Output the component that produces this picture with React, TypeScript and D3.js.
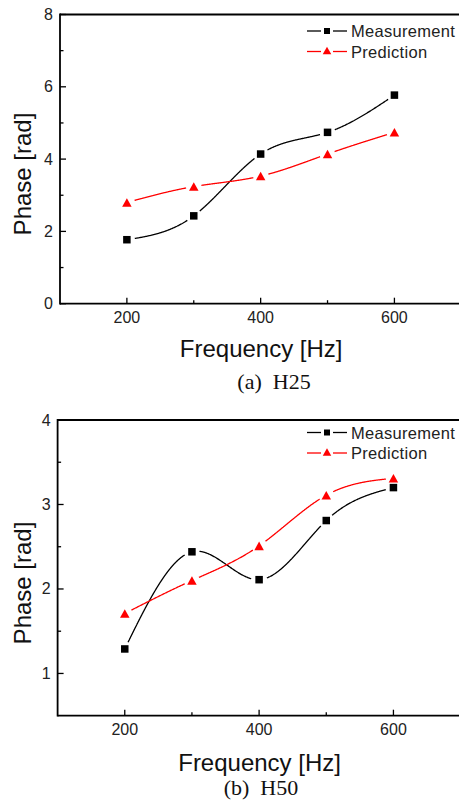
import React from "react";
import * as d3 from "d3";

const frequencies = [200, 300, 400, 500, 600];
const h25Measurement = [1.77, 2.43, 4.14, 4.74, 5.77];
const h25Prediction = [2.8, 3.24, 3.53, 4.14, 4.74];
const h50Measurement = [1.29, 2.44, 2.11, 2.81, 3.2];
const h50Prediction = [1.71, 2.1, 2.51, 3.11, 3.31];

const xMajorTicks = [200, 400, 600];
const xMinorTicks = [300, 500];
const h25YMajor = [0, 2, 4, 6, 8];
const h25YMinor = [1, 3, 5, 7];
const h50YMajor = [1, 2, 3, 4];
const h50YMinor = [1.5, 2.5, 3.5];

const seriesNames = ["Measurement", "Prediction"];
const captions = ["(a)  H25", "(b)  H50"];

const SANS = "Arial, 'Liberation Sans', sans-serif";
const SERIF = "'Times New Roman', 'Liberation Serif', serif";

type Geo = {
  left: number;
  right: number;
  top: number;
  bottom: number;
  yDomain: [number, number];
  yMajor: number[];
  yMinor: number[];
  meas: number[];
  pred: number[];
  id: string;
  caption: string;
  xTitleY: number;
  captionX: number;
  captionY: number;
  yTitleX: number;
  yTitleY: number;
  legendY: number;
};

function Square({ x, y, s }: { x: number; y: number; s: number }) {
  return <rect x={x - s / 2} y={y - s / 2} width={s} height={s} fill="#000" />;
}
function Tri({ x, y, s, color }: { x: number; y: number; s: number; color: string }) {
  const h = s * 0.9;
  return (
    <path
      d={`M${x},${y - h / 2}L${x + s / 2},${y + h / 2}L${x - s / 2},${y + h / 2}Z`}
      fill={color}
    />
  );
}

// Build a line path with gaps of radius r around each marker point,
// by sampling the curve and breaking it where it enters a gap circle.
function gappedPath(d: string, pts: [number, number][], r: number): string {
  if (typeof document === "undefined") return d;
  const ns = "http://www.w3.org/2000/svg";
  const svg = document.createElementNS(ns, "svg");
  const p = document.createElementNS(ns, "path");
  p.setAttribute("d", d);
  svg.appendChild(p);
  svg.style.position = "absolute";
  svg.style.visibility = "hidden";
  document.body.appendChild(svg);
  const len = p.getTotalLength();
  let out = "";
  let drawing = false;
  const step = 0.5;
  for (let s = 0; s <= len + 0.001; s += step) {
    const q = p.getPointAtLength(Math.min(s, len));
    const inGap = pts.some(([px, py]) => Math.hypot(q.x - px, q.y - py) < r);
    if (inGap) {
      drawing = false;
    } else {
      out += `${drawing ? "L" : "M"}${q.x.toFixed(2)},${q.y.toFixed(2)}`;
      drawing = true;
    }
  }
  document.body.removeChild(svg);
  return out;
}

function Panel(g: Geo) {
  const x = d3.scaleLinear().domain([100, 700]).range([g.left, g.right]);
  const y = d3.scaleLinear().domain(g.yDomain).range([g.bottom, g.top]);
  const line = d3
    .line<number>()
    .x((_, i) => x(frequencies[i]))
    .y((d) => y(d))
    .curve(d3.curveNatural);
  const gapR = 7.5;
  const red = "#ff0000";
  const midX = (g.left + g.right) / 2;
  const lx0 = 307;
  const lx1 = 347;
  const lm = 327;
  const measPts = g.meas.map((v, i) => [x(frequencies[i]), y(v)] as [number, number]);
  const predPts = g.pred.map((v, i) => [x(frequencies[i]), y(v)] as [number, number]);
  const measD = gappedPath(line(g.meas) || "", measPts, gapR);
  const predD = gappedPath(line(g.pred) || "", predPts, gapR);
  return (
    <g>
      {/* frame */}
      <line x1={g.left} x2={g.right + 2} y1={g.top} y2={g.top} stroke="#000" strokeWidth={1.8} />
      <line x1={g.right} x2={g.right} y1={g.top} y2={g.bottom} stroke="#000" strokeWidth={1.8} />
      <line x1={g.left} x2={g.left} y1={g.top - 0.9} y2={g.bottom + 0.9} stroke="#000" strokeWidth={1.8} />
      <line x1={g.left} x2={g.right + 2} y1={g.bottom} y2={g.bottom} stroke="#000" strokeWidth={1.8} />
      {/* x ticks */}
      {xMajorTicks.map((t) => (
        <g key={`xM${t}`}>
          <line x1={x(t)} x2={x(t)} y1={g.bottom} y2={g.bottom - 6} stroke="#000" strokeWidth={1.3} />
          <text x={x(t)} y={g.bottom + 19} textAnchor="middle" fontFamily={SANS} fontSize={16} fill="#222">
            {t}
          </text>
        </g>
      ))}
      {xMinorTicks.map((t) => (
        <line key={`xm${t}`} x1={x(t)} x2={x(t)} y1={g.bottom} y2={g.bottom - 3.5} stroke="#000" strokeWidth={1.3} />
      ))}
      {/* y ticks */}
      {g.yMajor.map((t) => (
        <g key={`yM${t}`}>
          <line x1={g.left} x2={g.left + 6} y1={y(t)} y2={y(t)} stroke="#000" strokeWidth={1.3} />
          <text x={g.left - 7} y={y(t) + 5.5} textAnchor="end" fontFamily={SANS} fontSize={16} fill="#222">
            {t}
          </text>
        </g>
      ))}
      {g.yMinor.map((t) => (
        <line key={`ym${t}`} x1={g.left} x2={g.left + 3.5} y1={y(t)} y2={y(t)} stroke="#000" strokeWidth={1.3} />
      ))}
      {/* series */}
      <path d={measD} fill="none" stroke="#000" strokeWidth={1.3} />
      <path d={predD} fill="none" stroke={red} strokeWidth={1.3} />
      {g.meas.map((v, i) => (
        <Square key={`s${i}`} x={x(frequencies[i])} y={y(v)} s={7.5} />
      ))}
      {g.pred.map((v, i) => (
        <Tri key={`t${i}`} x={x(frequencies[i])} y={y(v)} s={9.5} color={red} />
      ))}
      {/* legend */}
      <g>
        <line x1={lx0} x2={lm - 6} y1={g.legendY} y2={g.legendY} stroke="#000" strokeWidth={1.3} />
        <line x1={lm + 6} x2={lx1} y1={g.legendY} y2={g.legendY} stroke="#000" strokeWidth={1.3} />
        <Square x={lm} y={g.legendY} s={6} />
        <text x={351} y={g.legendY + 6} fontFamily={SANS} fontSize={16.5} letterSpacing={0.3} fill="#222">
          {seriesNames[0]}
        </text>
        <line x1={lx0} x2={lm - 6} y1={g.legendY + 20.5} y2={g.legendY + 20.5} stroke={red} strokeWidth={1.3} />
        <line x1={lm + 6} x2={lx1} y1={g.legendY + 20.5} y2={g.legendY + 20.5} stroke={red} strokeWidth={1.3} />
        <Tri x={lm} y={g.legendY + 19.5} s={8.5} color={red} />
        <text x={351} y={g.legendY + 26.5} fontFamily={SANS} fontSize={16.5} letterSpacing={0.3} fill="#222">
          {seriesNames[1]}
        </text>
      </g>
      {/* titles */}
      <text x={midX + 0.5} y={g.xTitleY} textAnchor="middle" fontFamily={SANS} fontSize={24} fill="#111">
        Frequency [Hz]
      </text>
      <text
        transform={`translate(${g.yTitleX},${g.yTitleY}) rotate(-90)`}
        textAnchor="middle"
        fontFamily={SANS}
        fontSize={24}
        fill="#111"
      >
        Phase [rad]
      </text>
      <text
        x={g.captionX}
        y={g.captionY}
        textAnchor="middle"
        fontFamily={SERIF}
        fontSize={22}
        fill="#111"
        style={{ whiteSpace: "pre" }}
      >
        {g.caption}
      </text>
    </g>
  );
}

export default function App() {
  return (
    <svg
      width={459}
      height={806}
      style={{ position: "absolute", left: 0, top: 0, background: "#fff" }}
    >
      <rect width={459} height={806} fill="#fff" />
      <Panel
        id="p1"
        left={60}
        right={461.3}
        top={14.5}
        bottom={303.7}
        yDomain={[0, 8]}
        yMajor={h25YMajor}
        yMinor={h25YMinor}
        meas={h25Measurement}
        pred={h25Prediction}
        caption={captions[0]}
        xTitleY={357}
        captionX={274}
        captionY={389}
        yTitleX={31}
        yTitleY={174}
        legendY={31}
      />
      <Panel
        id="p2"
        left={57.6}
        right={460.6}
        top={420}
        bottom={715.7}
        yDomain={[0.5, 4]}
        yMajor={h50YMajor}
        yMinor={h50YMinor}
        meas={h50Measurement}
        pred={h50Prediction}
        caption={captions[1]}
        xTitleY={771}
        captionX={261}
        captionY={795}
        yTitleX={31}
        yTitleY={583}
        legendY={432.5}
      />
    </svg>
  );
}
